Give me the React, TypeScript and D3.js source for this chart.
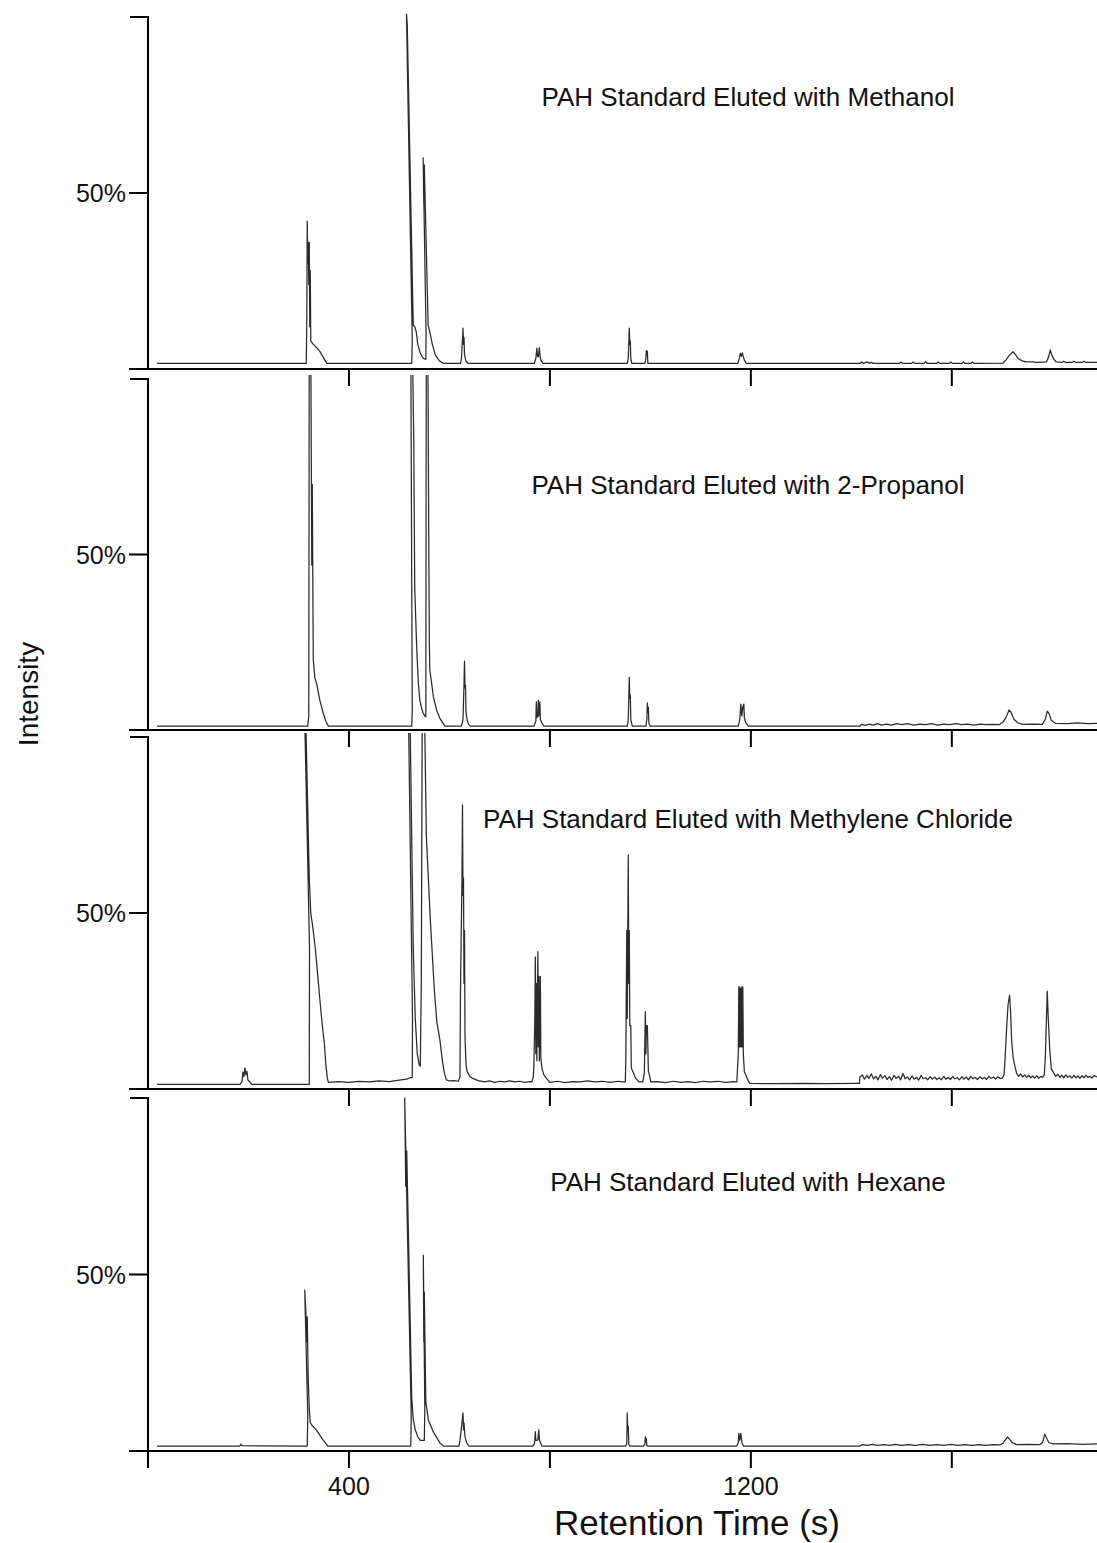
import React, { useMemo } from 'react'
import * as d3 from 'd3'

type Pt = [number, number]

// retention time (s), intensity (%) vertices
const methanol: Pt[] = [
  [18, 1.6],
  [315, 1.6], [316, 12], [317, 42], [318, 30], [319, 36], [320, 24], [321, 36], [322, 12], [323, 28], [324, 8],
  [329, 7], [335, 6.2], [342, 5], [348, 3.5], [353, 2.3], [356, 1.6],
  [525, 1.6], [526, 8], [514.5, 100.8], [516, 98], [528, 12.5], [531, 12], [534, 10.5], [537, 7], [542, 4.5], [548, 3], [552, 2.8],
  [553, 2.8], [553.5, 10], [547.7, 60], [549, 47], [550, 58], [557.6, 12.5], [561, 10.5], [566, 7], [572, 4], [580, 2.3], [588, 1.6],
  [622, 1.6], [624, 3], [627, 11.6], [628, 7], [629, 9], [630, 4], [633, 2.2], [637, 1.6],
  [769, 1.6], [772, 3], [774, 5.9], [775.5, 3.5], [777, 3.5], [779, 6.1], [780.5, 3.5], [782, 2.5], [786, 1.6],
  [954, 1.6], [956, 3], [958, 11.6], [959, 7], [960, 8], [961, 3], [963, 1.6],
  [989, 1.6], [991, 3], [992, 5.2], [993, 4], [994, 5], [995, 1.6],
  [1174, 1.6], [1177, 3], [1179, 4.5], [1181, 3.6], [1183, 4.6], [1185, 3.5], [1187, 2.5], [1191, 1.6],
  [1418, 1.6], [1420, 2.0], [1424, 1.6], [1432, 2.0], [1436, 1.6], [1440, 1.9], [1443, 1.6],
  [1496, 1.6], [1499, 2.0], [1502, 1.6], [1520, 1.6], [1523, 2.0], [1526, 1.6], [1545, 1.6], [1548, 2.1], [1551, 1.6],
  [1570, 1.6], [1573, 2.0], [1576, 1.6], [1595, 1.6], [1598, 2.0], [1601, 1.6], [1620, 1.6], [1623, 2.0], [1626, 1.6],
  [1638, 1.6], [1641, 2.0], [1644, 1.6],
  [1702, 1.7], [1708, 2.6], [1714, 3.8], [1722, 4.9], [1726, 4.2], [1732, 3], [1740, 2.3], [1748, 2],
  [1760, 2.0], [1770, 1.9], [1788, 2.0], [1791, 2.8], [1794, 4.2], [1796, 5.4], [1799, 4], [1803, 2.8], [1808, 2.0],
  [1820, 1.9], [1823, 2.2], [1826, 1.9], [1840, 1.9], [1843, 2.2], [1846, 1.9], [1860, 1.9], [1863, 2.2], [1866, 1.9], [1889, 1.9],
]

const propanol: Pt[] = [
  [18, 1.1],
  [318, 1.1], [320, 4], [321, 112], [324, 112], [326, 47], [327, 70], [329, 20], [332, 15], [336, 13], [342, 8.5], [349, 4.7], [354, 2.5], [359, 1.1],
  [525, 1.1], [526, 6], [523, 112], [526, 112], [529, 83], [531, 40], [535, 23], [538, 13.6], [541, 8.5], [545, 6], [548, 4.7], [552, 3.8],
  [553, 3.8], [554, 112], [557, 112], [559, 50], [560, 25], [561, 17], [564, 14], [568, 9.5], [574.5, 5.7], [581, 3.3], [591, 1.1],
  [624, 1.1], [627, 3], [629, 12.8], [630, 19.6], [631, 12], [632, 12.8], [633, 5], [635, 3], [638, 1.6], [642, 1.1],
  [768, 1.1], [772, 2.5], [773, 8], [774, 3.5], [776, 4], [777, 8.5], [778, 4], [780, 8], [781, 3], [784, 2], [788, 1.1],
  [954, 1.1], [956, 3], [958, 15], [959, 9], [960, 10], [961, 3], [964, 1.1],
  [991, 1.1], [993, 3], [994, 7.7], [995, 5], [996, 6.5], [997, 2], [1000, 1.1],
  [1175, 1.1], [1178, 3], [1180, 7.4], [1182, 4], [1184, 6.5], [1186, 7.4], [1187, 3.5], [1190, 2], [1195, 1.1],
  [1417, 1.1], [1420, 1.6], [1428, 1.3], [1436, 1.7], [1444, 1.4], [1452, 1.8], [1460, 1.4], [1470, 1.7], [1480, 1.4],
  [1490, 1.8], [1500, 1.5], [1512, 1.8], [1524, 1.4], [1536, 1.7], [1548, 1.5], [1560, 1.8], [1572, 1.4], [1584, 1.7],
  [1596, 1.5], [1608, 1.8], [1620, 1.5], [1632, 1.7], [1644, 1.4], [1656, 1.7], [1668, 1.5], [1680, 1.6],
  [1694, 1.5], [1702, 2.3], [1708, 3.6], [1714, 5.7], [1718, 5], [1724, 3], [1732, 2], [1742, 1.6],
  [1760, 1.7], [1780, 1.6], [1786, 3], [1790, 5.4], [1794, 4.6], [1798, 2.8], [1806, 1.9],
  [1830, 1.8], [1850, 2.0], [1870, 1.8], [1889, 1.9],
]

const methyleneChloride: Pt[] = [
  [18, 1.3],
  [183, 1.3], [187, 2], [189, 4.8], [191, 3.5], [193, 6], [195, 4], [197, 5], [199, 2.5], [203, 2], [206, 1.3],
  [321, 1.3], [321.5, 40], [311, 112], [313, 112], [321, 60], [324, 50], [328, 46], [333, 40], [338, 32], [343, 24],
  [347, 18], [351, 13], [354, 7], [357, 3], [359, 1.9],
  [380, 2.1], [400, 1.9], [420, 2.2], [440, 2.0], [460, 2.3], [480, 2.1], [500, 2.5], [515, 2.8], [522, 3.2],
  [526, 3.2], [526.5, 20], [518, 112], [521, 112], [528, 40], [532, 20], [536, 10], [540, 6.8], [542, 6.5],
  [544, 30], [546, 112], [550, 112], [554, 72], [558, 60], [562, 48], [566, 38], [570, 28], [575, 19], [581, 14],
  [586, 8], [590, 4.5], [594, 2.6], [600, 2.3], [610, 2.4], [618, 2.2],
  [619, 2.6], [621, 3.5], [622, 28], [623, 38.6], [625, 60], [626, 80.7], [627, 55], [628, 60], [629, 30], [630, 45],
  [631, 15], [633, 7], [635, 5], [641, 3.5], [647, 3], [657, 2.4],
  [670, 2.0], [680, 2.3], [690, 1.9], [700, 2.2], [710, 2.0], [720, 2.3], [730, 2.0], [740, 2.2], [750, 1.9], [760, 2.1],
  [764, 2], [767, 3.5], [768, 6], [770, 20], [771, 37.5], [772, 10], [773, 30], [774, 8], [776, 39], [777, 12],
  [778, 32], [779, 8], [781, 32], [782, 9], [784, 6], [788, 4], [793, 3], [800, 1.9],
  [815, 2.2], [830, 1.8], [845, 2.1], [860, 2.0], [875, 2.3], [890, 2.0], [905, 2.2], [920, 1.9], [935, 2.2], [945, 2.0],
  [950, 2], [951, 7], [953, 45], [954, 20], [955, 45], [956, 66.5], [957, 30], [958, 45], [959, 18], [961, 18],
  [962, 6], [965, 5], [971, 3], [977, 2],
  [985, 2], [988, 4.5], [990, 22], [991, 10], [992, 18], [994, 18], [996, 5], [998, 4], [1001, 2],
  [1015, 2.1], [1030, 1.8], [1045, 2.2], [1060, 1.9], [1075, 2.1], [1090, 1.8], [1105, 2.2], [1120, 2.0], [1135, 2.2],
  [1150, 1.9], [1165, 2.1],
  [1172, 2], [1175, 10], [1176, 29], [1177, 12], [1178, 29], [1179, 12], [1180, 28.5], [1181, 12], [1182, 29],
  [1183, 12], [1184, 29], [1185, 10], [1187, 5], [1190, 4], [1194, 2.5], [1198, 1.6],
  [1250, 1.5], [1300, 1.6], [1350, 1.5], [1410, 1.6],
  [1416, 1.6], [1417, 3.4], [1422, 4.0], [1426, 2.8], [1431, 3.9], [1435, 3.0], [1440, 4.3], [1444, 2.9], [1449, 3.6],
  [1453, 2.6], [1458, 4.1], [1462, 3.1], [1467, 3.8], [1471, 2.7], [1476, 3.5], [1480, 2.5], [1485, 3.9], [1489, 3.0],
  [1494, 3.6], [1498, 2.6], [1503, 4.4], [1507, 2.9], [1512, 3.4], [1516, 2.6], [1521, 3.7], [1525, 2.8], [1530, 3.3],
  [1534, 2.5], [1539, 3.9], [1543, 2.9], [1548, 3.2], [1552, 2.6], [1557, 3.5], [1561, 2.8], [1566, 3.4], [1570, 2.7],
  [1575, 3.2], [1579, 2.6], [1584, 3.6], [1588, 2.8], [1593, 3.3], [1597, 2.7], [1602, 3.6], [1606, 2.9], [1611, 3.2],
  [1615, 2.6], [1620, 3.5], [1624, 2.8], [1629, 3.4], [1633, 2.6], [1638, 3.6], [1642, 2.9], [1647, 3.3], [1651, 2.7],
  [1656, 3.5], [1660, 2.9], [1665, 3.3], [1669, 2.7], [1674, 3.6], [1678, 3.0], [1683, 3.4], [1687, 2.8], [1692, 3.5],
  [1696, 3.0], [1700, 3.0],
  [1704, 4], [1706, 8.5], [1709, 17], [1712, 24], [1715, 26.7], [1717, 22], [1719, 14], [1722, 9], [1725, 6.8], [1729, 4.5],
  [1733, 3.6], [1737, 4.3], [1741, 3.4], [1745, 4.0], [1749, 3.3], [1753, 3.9], [1757, 3.2], [1761, 3.7], [1765, 3.1],
  [1769, 3.8], [1773, 3.0], [1777, 3.6], [1781, 3.3],
  [1784, 4], [1786, 8.5], [1788, 18], [1790, 27.8], [1792, 20], [1795, 11], [1798, 5.7], [1803, 4.5],
  [1807, 3.6], [1811, 4.2], [1815, 3.3], [1819, 3.9], [1823, 3.2], [1827, 4.0], [1831, 3.3], [1835, 3.8], [1839, 3.1],
  [1843, 3.9], [1847, 3.2], [1851, 3.7], [1855, 3.0], [1859, 3.8], [1863, 3.2], [1867, 3.9], [1871, 3.3], [1875, 3.6],
  [1879, 3.1], [1883, 3.8], [1889, 3.4],
]

const hexane: Pt[] = [
  [18, 1.4],
  [183, 1.4], [185, 2], [187, 1.5],
  [317, 1.4], [318, 10], [312, 45.6], [314, 40], [316, 31], [317, 38], [319, 20], [321, 12], [323, 8], [328, 7],
  [335, 6], [342, 4.5], [349, 3], [355, 2], [358, 1.4],
  [523, 1.4], [524, 10], [511, 100], [513, 75], [515, 85], [525, 15], [528, 9], [532, 6], [537, 4], [542, 3], [545, 3],
  [550, 3], [551, 12], [548, 55.5], [549, 31], [550, 45], [553, 14], [558, 8.8], [568, 5.4], [581, 2.3], [588, 1.4],
  [619, 1.4], [621, 3], [623, 5.5], [627, 10.8], [628, 6], [629, 8], [631, 4], [634, 2.5], [638, 1.4],
  [766, 1.4], [769, 2], [770, 3], [771, 5.5], [772, 3], [774, 3], [776, 3.2], [778, 6], [779, 3], [781, 2.5], [784, 1.4],
  [951, 1.4], [953, 2], [954, 10.8], [955, 6], [956, 7], [957, 2], [959, 1.4],
  [987, 1.4], [989, 2], [990, 4], [991, 2.5], [992, 3.5], [993, 1.5], [995, 1.4],
  [1172, 1.4], [1175, 2.5], [1176, 5], [1178, 3], [1180, 5], [1182, 2.5], [1185, 1.4],
  [1417, 1.4], [1422, 1.8], [1432, 1.6], [1442, 1.9], [1452, 1.6], [1464, 1.8], [1476, 1.6], [1488, 1.9], [1500, 1.6],
  [1514, 1.8], [1528, 1.6], [1542, 1.9], [1556, 1.6], [1570, 1.8], [1584, 1.6], [1598, 1.9], [1612, 1.6], [1626, 1.8],
  [1640, 1.6], [1654, 1.8], [1668, 1.6], [1682, 1.8],
  [1696, 1.7], [1702, 2.2], [1707, 3.2], [1711, 4], [1715, 3.3], [1721, 2.3], [1729, 1.8],
  [1750, 1.9], [1775, 1.8], [1781, 2.5], [1785, 4.8], [1788, 3.8], [1793, 2.4], [1801, 2],
  [1830, 2.1], [1860, 1.9], [1889, 2],
]

const traces = [methanol, propanol, methyleneChloride, hexane]
const titles = [
  'PAH Standard Eluted with Methanol',
  'PAH Standard Eluted with 2-Propanol',
  'PAH Standard Eluted with Methylene Chloride',
  'PAH Standard Eluted with Hexane',
]
const xTicks = [400, 800, 1200, 1600]
const xTicksBottom = [0, 400, 800, 1200, 1600]
const xTickLabels = ['', '400', '', '1200', '']

const W = 1097
const H = 1543
const LEFT = 148
const panelTops = [17, 379, 737, 1098]
const panelBottoms = [369, 730, 1089, 1451]
const titleY = [106, 494, 828, 1191]
const FONT = "Arial, 'Liberation Sans', Helvetica, sans-serif"

export default function App() {
  const x = useMemo(() => d3.scaleLinear().domain([0, 1889]).range([LEFT, W]), [])

  return (
    <svg
      width={W}
      height={H}
      style={{ position: 'absolute', left: 0, top: 0, background: '#fff' }}
      fontFamily={FONT}
    >
      <rect x={0} y={0} width={W} height={H} fill="#fff" />
      {traces.map((trace, i) => {
        const top = panelTops[i]
        const bottom = panelBottoms[i]
        const y = d3.scaleLinear().domain([0, 100]).range([bottom, top])
        const line = d3.line<Pt>().x(d => x(d[0])).y(d => y(d[1]))
        const ticks = i === 3 ? xTicksBottom : xTicks
        return (
          <g key={i}>
            <defs>
              <clipPath id={`clip-${i}`}>
                <rect x={LEFT} y={top - 4} width={W - LEFT} height={bottom - top + 4} />
              </clipPath>
            </defs>
            <path
              d={line(trace) || ''}
              fill="none"
              stroke="#2a2a2a"
              strokeWidth={1.25}
              strokeLinejoin="round"
              clipPath={`url(#clip-${i})`}
            />
            <text x={748} y={titleY[i]} textAnchor="middle" fontSize={26} fill="#111">
              {titles[i]}
            </text>
            {/* y axis with bracket at 100% */}
            <path
              d={`M${LEFT - 18},${y(100)}H${LEFT}V${y(0)}`}
              fill="none"
              stroke="#000"
              strokeWidth={2}
            />
            <line x1={LEFT - 19} x2={LEFT} y1={y(50)} y2={y(50)} stroke="#000" strokeWidth={2} />
            <text x={LEFT - 22} y={y(50) + 9} textAnchor="end" fontSize={25} fill="#111">
              50%
            </text>
            {/* x axis */}
            <line x1={LEFT - 19} x2={W} y1={bottom} y2={bottom} stroke="#000" strokeWidth={2} />
            {ticks.map(t => (
              <line key={t} x1={x(t)} x2={x(t)} y1={bottom} y2={bottom + 17} stroke="#000" strokeWidth={2} />
            ))}
            {i === 3 &&
              ticks.map((t, k) => (
                <text key={`l${t}`} x={x(t)} y={bottom + 44} textAnchor="middle" fontSize={25} fill="#111">
                  {xTickLabels[k]}
                </text>
              ))}
          </g>
        )
      })}
      <text
        transform="translate(38,694) rotate(-90)"
        textAnchor="middle"
        fontSize={28}
        fill="#111"
      >
        Intensity
      </text>
      <text x={697} y={1535} textAnchor="middle" fontSize={35} fill="#111">
        Retention Time (s)
      </text>
    </svg>
  )
}
